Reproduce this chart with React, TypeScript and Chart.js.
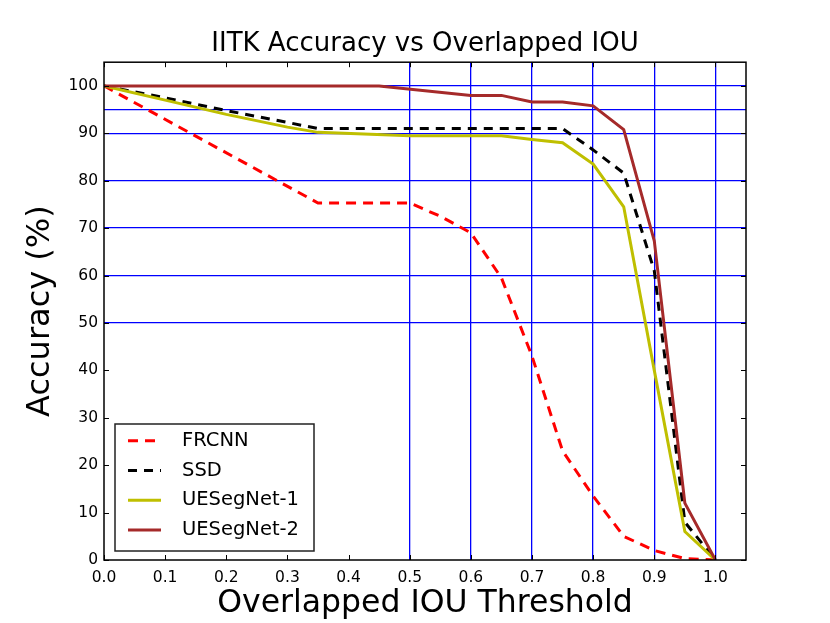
import React, { useEffect, useRef } from "react";
import { Chart, registerables } from "chart.js";

Chart.register(...registerables);

const FONT = "DejaVu Sans";

const titleText = "IITK Accuracy vs Overlapped IOU";
const xTitleText = "Overlapped IOU Threshold";
const yTitleText = "Accuracy (%)";

const xTickValues = [0, 0.1, 0.2, 0.3, 0.4, 0.5, 0.6, 0.7, 0.8, 0.9, 1.0];
const yTickValues = [0, 10, 20, 30, 40, 50, 60, 70, 80, 90, 100];
const xGridValues = [0.5, 0.6, 0.7, 0.8, 0.9, 1.0];
const yGridValues = [50, 60, 70, 80, 90, 95, 100];

const seriesLabels = ["FRCNN", "SSD", "UESegNet-1", "UESegNet-2"];

const frcnnX = [0, 0.35, 0.5, 0.55, 0.6, 0.65, 0.7, 0.75, 0.8, 0.85, 0.9, 0.95, 1.0];
const frcnnY = [100, 75.3, 75.3, 72.5, 69, 59.5, 43, 23, 13.5, 5, 2, 0.3, 0];

const ssdX = [0, 0.1, 0.2, 0.3, 0.35, 0.75, 0.8, 0.85, 0.9, 0.95, 1.0];
const ssdY = [100, 97.5, 94.8, 92.3, 91, 91, 86.5, 81.6, 61, 8, 0];

const ues1X = [0, 0.1, 0.2, 0.3, 0.35, 0.5, 0.65, 0.7, 0.75, 0.8, 0.85, 0.9, 0.95, 1.0];
const ues1Y = [100, 97, 94, 91.3, 90.2, 89.5, 89.5, 88.7, 88, 83.5, 74.5, 40, 6, 0];

const ues2X = [0, 0.45, 0.6, 0.65, 0.7, 0.75, 0.8, 0.85, 0.9, 0.95, 1.0];
const ues2Y = [100, 100, 98, 98, 96.6, 96.6, 95.8, 90.8, 67.3, 12, 0];

const toPoints = (xs: number[], ys: number[]) => xs.map((x, i) => ({ x, y: ys[i] }));

const framePlugin = {
  id: "frameTicks",
  afterDatasetsDraw(chart: any) {
    const { ctx, chartArea, scales } = chart;
    const { left, right, top, bottom } = chartArea;
    ctx.save();
    ctx.strokeStyle = "#000";
    ctx.lineWidth = 1;
    ctx.setLineDash([]);
    ctx.beginPath();
    const tl = 5;
    xTickValues.forEach((v) => {
      const px = Math.round(scales.x.getPixelForValue(v)) + 0.5;
      ctx.moveTo(px, bottom);
      ctx.lineTo(px, bottom - tl);
      ctx.moveTo(px, top);
      ctx.lineTo(px, top + tl);
    });
    yTickValues.forEach((v) => {
      const py = Math.round(scales.y.getPixelForValue(v)) + 0.5;
      ctx.moveTo(left, py);
      ctx.lineTo(left + tl, py);
      ctx.moveTo(right, py);
      ctx.lineTo(right - tl, py);
    });
    ctx.stroke();
    ctx.lineWidth = 1.5;
    ctx.strokeRect(left, top, right - left, bottom - top);
    ctx.restore();
  },
};

const legendPlugin = {
  id: "insideLegend",
  afterDatasetsDraw(chart: any) {
    const { ctx, chartArea } = chart;
    const w = 199;
    const h = 127;
    const x0 = chartArea.left + 11;
    const y0 = chartArea.bottom - 9 - h;
    ctx.save();
    ctx.fillStyle = "#fff";
    ctx.fillRect(x0, y0, w, h);
    ctx.strokeStyle = "#222";
    ctx.lineWidth = 1.5;
    ctx.setLineDash([]);
    ctx.strokeRect(x0, y0, w, h);
    chart.data.datasets.forEach((ds: any, i: number) => {
      const cy = y0 + 16.7 + i * 29.8;
      ctx.beginPath();
      ctx.strokeStyle = ds.borderColor;
      ctx.lineWidth = ds.borderWidth;
      ctx.setLineDash(ds.borderDash || []);
      ctx.moveTo(x0 + 13, cy);
      ctx.lineTo(x0 + 46, cy);
      ctx.stroke();
      ctx.setLineDash([]);
      ctx.fillStyle = "#000";
      ctx.font = `19.5px "${FONT}"`;
      ctx.textBaseline = "middle";
      ctx.textAlign = "left";
      ctx.fillText(ds.label, x0 + 67, cy);
    });
    ctx.restore();
  },
};

export default function App() {
  const ref = useRef<HTMLCanvasElement | null>(null);
  useEffect(() => {
    if (!ref.current) return;
    const blue = "#0000ff";
    const chart = new Chart(ref.current, {
      type: "line",
      data: {
        datasets: [
          {
            label: seriesLabels[0],
            data: toPoints(frcnnX, frcnnY),
            borderColor: "#ff0000",
            borderWidth: 3,
            borderDash: [10, 7],
            pointRadius: 0,
            fill: false,
            tension: 0,
            order: 3,
          },
          {
            label: seriesLabels[1],
            data: toPoints(ssdX, ssdY),
            borderColor: "#000000",
            borderWidth: 3,
            borderDash: [9, 7],
            pointRadius: 0,
            fill: false,
            tension: 0,
            order: 2,
          },
          {
            label: seriesLabels[2],
            data: toPoints(ues1X, ues1Y),
            borderColor: "#bfbf00",
            borderWidth: 3,
            pointRadius: 0,
            fill: false,
            tension: 0,
            order: 1,
          },
          {
            label: seriesLabels[3],
            data: toPoints(ues2X, ues2Y),
            borderColor: "#a52a2a",
            borderWidth: 3,
            pointRadius: 0,
            fill: false,
            tension: 0,
            order: 0,
          },
        ],
      },
      options: {
        responsive: false,
        animation: false,
        layout: { padding: { left: 0, top: 0, right: 84, bottom: 0 } },
        plugins: {
          legend: { display: false },
          tooltip: { enabled: false },
          title: {
            display: true,
            text: titleText,
            color: "#000",
            fullSize: false,
            font: { family: FONT, size: 26, weight: "normal" },
            padding: { top: 29, bottom: 2 },
          },
        },
        scales: {
          x: {
            type: "linear",
            min: 0,
            max: 1.05,
            afterBuildTicks: (scale: any) => {
              scale.ticks = xTickValues.map((v) => ({ value: v }));
            },
            afterFit: (scale: any) => {
              scale.height = 63;
            },
            ticks: {
              autoSkip: false,
              maxRotation: 0,
              padding: 9,
              color: "#000",
              font: { family: FONT, size: 15.5 },
              callback: (v: any) => Number(v).toFixed(1),
            },
            grid: {
              drawTicks: false,
              lineWidth: 1.3,
              color: (c: any) =>
                c.tick && xGridValues.some((g) => Math.abs(g - c.tick.value) < 1e-9) ? blue : "rgba(0,0,0,0)",
            },
            border: { display: false },
            title: {
              display: true,
              text: xTitleText,
              color: "#000",
              font: { family: FONT, size: 31.5 },
              padding: { top: 0, bottom: 0 },
            },
          },
          y: {
            type: "linear",
            min: 0,
            max: 105,
            afterBuildTicks: (scale: any) => {
              const all = [...yTickValues, ...yGridValues.filter((g) => !yTickValues.includes(g))].sort((a, b) => a - b);
              scale.ticks = all.map((v) => ({ value: v }));
            },
            afterFit: (scale: any) => {
              scale.width = 104;
            },
            ticks: {
              autoSkip: false,
              padding: 6,
              color: "#000",
              font: { family: FONT, size: 15.5 },
              callback: (v: any) => (yTickValues.includes(Number(v)) ? String(v) : ""),
            },
            grid: {
              drawTicks: false,
              lineWidth: 1.3,
              color: (c: any) => (c.tick && yGridValues.includes(c.tick.value) ? blue : "rgba(0,0,0,0)"),
            },
            border: { display: false },
            title: {
              display: true,
              text: yTitleText,
              color: "#000",
              font: { family: FONT, size: 32 },
              padding: { top: 21, bottom: 0 },
            },
          },
        },
      },
      plugins: [framePlugin, legendPlugin],
    } as any);
    return () => chart.destroy();
  }, []);
  return (
    <div style={{ position: "fixed", left: 0, top: 0, width: 830, height: 623, background: "#fff" }}>
      <canvas ref={ref} width={830} height={623} style={{ display: "block" }} />
    </div>
  );
}
